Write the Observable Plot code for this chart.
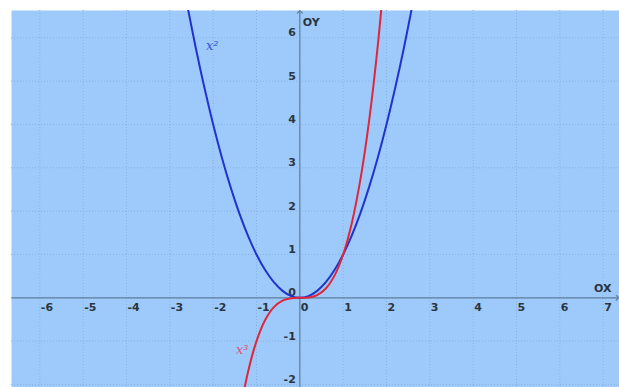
<!DOCTYPE html>
<html>
<head>
<meta charset="utf-8">
<script src="https://cdn.jsdelivr.net/npm/d3@7"></script>
<script src="https://cdn.jsdelivr.net/npm/@observablehq/plot@0.6"></script>
<style>
  html, body { margin: 0; padding: 0; background: #ffffff; }
  #chart svg { display: block; }
</style>
</head>
<body>
<div id="chart"></div>
<script>
// Sample points of y = x² and y = x³
const squareX = [-2.6, -2.4, -2.2, -2.0, -1.8, -1.6, -1.4, -1.2, -1.0, -0.8, -0.6, -0.4, -0.2, 0,
                 0.2, 0.4, 0.6, 0.8, 1.0, 1.2, 1.4, 1.6, 1.8, 2.0, 2.2, 2.4, 2.6];
const squareY = [6.76, 5.76, 4.84, 4, 3.24, 2.56, 1.96, 1.44, 1, 0.64, 0.36, 0.16, 0.04, 0,
                 0.04, 0.16, 0.36, 0.64, 1, 1.44, 1.96, 2.56, 3.24, 4, 4.84, 5.76, 6.76];
const cubeX = [-1.4, -1.2, -1.0, -0.8, -0.6, -0.4, -0.2, 0, 0.2, 0.4, 0.6, 0.8, 1.0, 1.2, 1.4, 1.6, 1.8, 2.0];
const cubeY = [-2.744, -1.728, -1, -0.512, -0.216, -0.064, -0.008, 0, 0.008, 0.064, 0.216, 0.512, 1, 1.728, 2.744, 4.096, 5.832, 8];

// Axis tick values
const xTicks = [-6, -5, -4, -3, -2, -1, 0, 1, 2, 3, 4, 5, 6, 7];
const yTicks = [-2, -1, 0, 1, 2, 3, 4, 5, 6];

// Curve names and where they are written
const curveNames = ["x²", "x³"];
const curveNameX = [-2.02, -1.33];
const curveNameY = [5.82, -1.19];

const xDomain = [-6.654, 7.377];
const yDomain = [-2.07, 6.63];

const square = squareX.map((x, i) => ({x, y: squareY[i]}));
const cube = cubeX.map((x, i) => ({x, y: cubeY[i]}));

const bg = "#9dcafa";
const gridColor = "#86b2df";
const axisColor = "#5f7f9f";
const labelFont = "DejaVu Sans";
const labelColor = "#2a3541";

const chart = Plot.plot({
  width: 619,
  height: 387,
  marginLeft: 11,
  marginTop: 10,
  marginRight: 0,
  marginBottom: 0,
  x: {domain: xDomain, axis: null},
  y: {domain: yDomain, axis: null},
  style: {background: "#ffffff"},
  marks: [
    Plot.frame({fill: bg, stroke: "none"}),
    Plot.gridX(xTicks, {stroke: gridColor, strokeOpacity: 1, strokeDasharray: "1,2"}),
    Plot.gridY(yTicks, {stroke: gridColor, strokeOpacity: 1, strokeDasharray: "1,2"}),
    // coordinate axes with arrow heads
    Plot.link([{x1: xDomain[0], x2: 7.33, y: 0}], {
      x1: "x1", x2: "x2", y1: "y", y2: "y",
      stroke: axisColor, strokeWidth: 1.2, markerEnd: "arrow"
    }),
    Plot.link([{x: 0, y1: yDomain[0], y2: 6.6}], {
      x1: "x", x2: "x", y1: "y1", y2: "y2",
      stroke: axisColor, strokeWidth: 1.2, markerEnd: "arrow"
    }),
    // tick labels
    Plot.text(xTicks, {
      x: d => d, y: 0, text: d => String(d),
      textAnchor: "start", dx: 1, dy: 10,
      fontFamily: labelFont, fontWeight: "bold", fontSize: 11, fill: labelColor
    }),
    Plot.text(yTicks, {
      x: 0, y: d => d, text: d => String(d),
      textAnchor: "end", dx: -4, dy: -5,
      fontFamily: labelFont, fontWeight: "bold", fontSize: 11, fill: labelColor
    }),
    Plot.text(["OX"], {
      x: 7.33, y: 0, text: d => d, textAnchor: "end", dx: -6, dy: -9,
      fontFamily: labelFont, fontWeight: "bold", fontSize: 11, fill: labelColor
    }),
    Plot.text(["OY"], {
      x: 0, y: 6.6, text: d => d, textAnchor: "start", dx: 3, dy: 11,
      fontFamily: labelFont, fontWeight: "bold", fontSize: 11, fill: labelColor
    }),
    // the two curves
    Plot.line(square, {x: "x", y: "y", stroke: "#2233cc", strokeWidth: 2, curve: "catmull-rom", clip: true}),
    Plot.line(cube, {x: "x", y: "y", stroke: "#e0263a", strokeWidth: 2, curve: "catmull-rom", clip: true}),
    Plot.text(curveNames, {
      x: (d, i) => curveNameX[i], y: (d, i) => curveNameY[i], text: d => d,
      fill: (d, i) => i === 0 ? "#3650d8" : "#e0507a",
      fontFamily: "DejaVu Serif", fontStyle: "italic", fontSize: 13
    })
  ]
});

document.getElementById("chart").appendChild(chart);
</script>
</body>
</html>
